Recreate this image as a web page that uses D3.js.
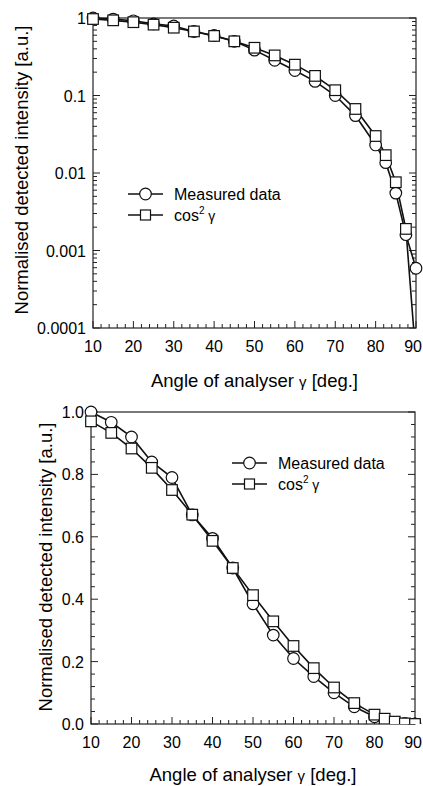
<!DOCTYPE html>
<html>
<head>
<meta charset="utf-8">
<script src="https://cdn.jsdelivr.net/npm/d3@7"></script>
<style>
  body { margin: 0; background: #fff; }
  svg { display: block; font-family: "Liberation Sans", Arial, sans-serif; }
</style>
</head>
<body>
<svg id="chart" width="423" height="786"></svg>
<script>
'use strict';

// analyser angle (deg)
const angles = [10, 15, 20, 25, 30, 35, 40, 45, 50, 55, 60, 65, 70, 75, 80, 82.5, 85, 87.5, 90];
// measured intensity, normalised
const measured = [1.0, 0.967, 0.92, 0.84, 0.79, 0.67, 0.595, 0.50, 0.385, 0.285, 0.21, 0.152, 0.10, 0.055, 0.023, 0.0136, 0.0055, 0.0016, 0.00059];
// cos^2 gamma
const cosSq = [0.97, 0.933, 0.883, 0.821, 0.75, 0.671, 0.587, 0.50, 0.413, 0.329, 0.25, 0.179, 0.117, 0.067, 0.030, 0.017, 0.0076, 0.0019, 0.00004];

const xTicks = [10, 20, 30, 40, 50, 60, 70, 80, 90];
const logTicks = [1, 0.1, 0.01, 0.001, 0.0001];
const logTickLabels = ['1', '0.1', '0.01', '0.001', '0.0001'];
const linTicks = [0, 0.2, 0.4, 0.6, 0.8, 1.0];

const svg = d3.select('#chart');

function drawPanel(opt) {
  const g = svg.append('g');
  const x = d3.scaleLinear().domain([10, 90]).range(opt.xr);
  const y = opt.y;
  const [x0, x1] = opt.xr;
  const [yb, yt] = y.range();

  const clipId = 'clip' + opt.id;
  g.append('clipPath').attr('id', clipId)
    .append('rect')
    .attr('x', x0 - 10).attr('y', yt - 10)
    .attr('width', x1 - x0 + 20).attr('height', yb - yt + 10);

  // frame
  g.append('rect')
    .attr('x', x0).attr('y', yt)
    .attr('width', x1 - x0).attr('height', yb - yt)
    .attr('fill', 'none').attr('stroke', '#222').attr('stroke-width', 1.2);

  // x ticks (inward)
  const xMinor = d3.range(10, 90.1, 2);
  g.selectAll('.xt').data(xMinor).join('line')
    .attr('x1', d => x(d)).attr('x2', d => x(d))
    .attr('y1', yb).attr('y2', d => yb - (d % 10 === 0 ? 7 : 4))
    .attr('stroke', '#222').attr('stroke-width', 1);

  g.selectAll('.xl').data(xTicks).join('text')
    .attr('x', d => d === 90 ? 422 : x(d)).attr('y', yb + 24)
    .attr('text-anchor', d => d === 90 ? 'end' : 'middle')
    .attr('font-size', 16)
    .text(d => d);

  // y ticks both sides
  const yMinor = opt.yMinor;
  [x0, x1].forEach((xx, side) => {
    const dir = side === 0 ? 1 : -1;
    g.append('g').selectAll('line').data(yMinor).join('line')
      .attr('x1', xx).attr('x2', d => xx + dir * (opt.isMajor(d) ? 7 : 4))
      .attr('y1', d => y(d)).attr('y2', d => y(d))
      .attr('stroke', '#222').attr('stroke-width', 1);
  });

  g.selectAll('.yl').data(opt.yTicks).join('text')
    .attr('x', x0 - 7).attr('y', d => y(d) + 6)
    .attr('text-anchor', 'end')
    .attr('font-size', 16)
    .text((d, i) => opt.yLabels[i]);

  // series
  const series = [
    {vals: measured, shape: 'circle'},
    {vals: cosSq, shape: 'square'}
  ];
  const line = d3.line()
    .defined(d => d[1] > 0 || !opt.log)
    .x(d => x(d[0]))
    .y(d => y(d[1]));

  const plot = g.append('g').attr('clip-path', `url(#${clipId})`);
  series.forEach(s => {
    const pts = angles.map((a, i) => [a, s.vals[i]]);
    plot.append('path')
      .datum(pts)
      .attr('d', line)
      .attr('fill', 'none')
      .attr('stroke', '#111')
      .attr('stroke-width', 1.6);
  });
  series.forEach(s => {
    const pts = angles.map((a, i) => [a, s.vals[i]]).filter(d => y(d[1]) <= yb + 1);
    if (s.shape === 'circle') {
      plot.selectAll(null).data(pts).join('circle')
        .attr('cx', d => x(d[0])).attr('cy', d => y(d[1]))
        .attr('r', 5.8)
        .attr('fill', '#fff').attr('stroke', '#111').attr('stroke-width', 1.2);
    } else {
      plot.selectAll(null).data(pts).join('rect')
        .attr('x', d => x(d[0]) - 5.3).attr('y', d => y(d[1]) - 5.3)
        .attr('width', 10.6).attr('height', 10.6)
        .attr('fill', '#fff').attr('stroke', '#111').attr('stroke-width', 1.2);
    }
  });

  // legend
  const lg = g.append('g').attr('transform', `translate(${opt.legend[0]},${opt.legend[1]})`);
  [['circle', 'Measured data'], ['square', null]].forEach((row, i) => {
    const yy = i * 21;
    lg.append('line').attr('x1', 0).attr('x2', 35).attr('y1', yy).attr('y2', yy)
      .attr('stroke', '#111').attr('stroke-width', 1.4);
    if (row[0] === 'circle') {
      lg.append('circle').attr('cx', 17.5).attr('cy', yy).attr('r', 5.8)
        .attr('fill', '#fff').attr('stroke', '#111').attr('stroke-width', 1.2);
    } else {
      lg.append('rect').attr('x', 12.5).attr('y', yy - 5).attr('width', 10).attr('height', 10)
        .attr('fill', '#fff').attr('stroke', '#111').attr('stroke-width', 1.2);
    }
    const t = lg.append('text').attr('x', 46).attr('y', yy + 6).attr('font-size', 16);
    if (row[1]) {
      t.text(row[1]);
    } else {
      t.append('tspan').text('cos');
      t.append('tspan').attr('font-size', 10).attr('dy', -7).text('2');
      t.append('tspan').attr('dy', 7).attr('font-size', 14).text(' γ');
    }
  });

  // axis titles
  const xt = g.append('text')
    .attr('x', (x0 + x1) / 2).attr('y', opt.xTitleY)
    .attr('text-anchor', 'middle')
    .attr('font-size', 18.5);
  xt.append('tspan').text('Angle of analyser ');
  xt.append('tspan').attr('font-size', 15).text('γ');
  xt.append('tspan').text(' [deg.]');

  g.append('text')
    .attr('transform', `translate(${opt.yTitle[0]},${opt.yTitle[1]}) rotate(-90)`)
    .attr('text-anchor', 'middle')
    .attr('font-size', 18.5)
    .text('Normalised detected intensity [a.u.]');
}

// top: log scale
const yLog = d3.scaleLog().domain([0.0001, 1]).range([328, 18]);
const logMinor = [];
[0.0001, 0.001, 0.01, 0.1].forEach(dec => {
  for (let k = 1; k < 10; k++) logMinor.push(dec * k);
});
logMinor.push(1);

drawPanel({
  id: 'top',
  xr: [93, 416],
  y: yLog,
  yTicks: logTicks,
  yLabels: logTickLabels,
  yMinor: logMinor,
  isMajor: d => Math.abs(Math.log10(d) - Math.round(Math.log10(d))) < 1e-6,
  log: true,
  legend: [128, 194],
  xTitleY: 387,
  yTitle: [28, 170]
});

// bottom: linear scale
const yLin = d3.scaleLinear().domain([0, 1]).range([724, 412]);
const linMinor = d3.range(0, 26).map(i => i * 0.04);
drawPanel({
  id: 'bottom',
  xr: [91, 415],
  y: yLin,
  yTicks: linTicks,
  yLabels: linTicks.map(d => d.toFixed(1)),
  yMinor: linMinor,
  isMajor: d => Math.abs(d * 5 - Math.round(d * 5)) < 1e-6,
  log: false,
  legend: [232, 463],
  xTitleY: 781,
  yTitle: [52, 567]
});
</script>
</body>
</html>
